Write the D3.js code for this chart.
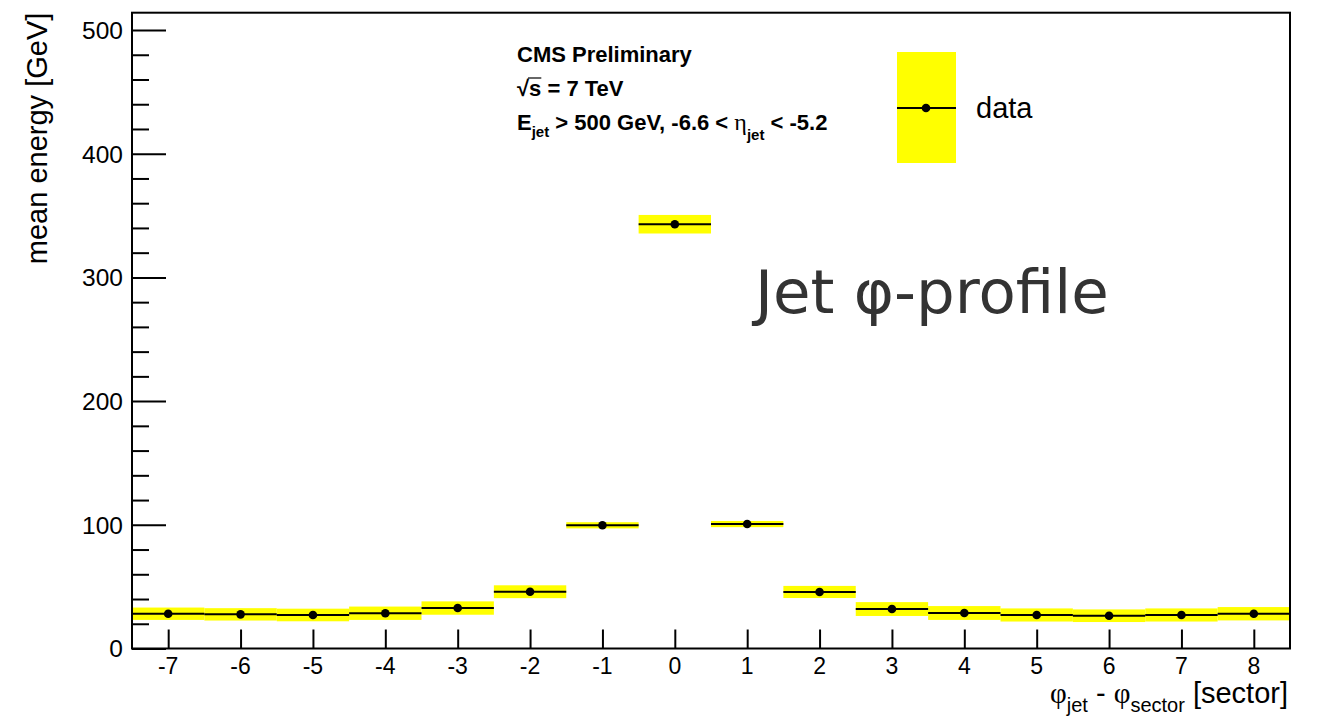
<!DOCTYPE html>
<html>
<head>
<meta charset="utf-8">
<script src="https://cdn.jsdelivr.net/npm/d3@7"></script>
<style>
  html, body { margin: 0; padding: 0; background: #fff; }
  svg { display: block; }
</style>
</head>
<body>
<svg id="chart" width="1320" height="718"></svg>
<script>
// Jet phi-profile: mean energy per azimuthal sector relative to the jet axis
const sectors = [-7, -6, -5, -4, -3, -2, -1, 0, 1, 2, 3, 4, 5, 6, 7, 8];
const meanEnergy = [28.1, 27.6, 27.1, 28.5, 32.7, 45.9, 99.6, 343.0, 100.6, 45.7, 31.9, 28.7, 27.1, 26.5, 27.1, 28.1];
const energyErr = [5.0, 5.0, 5.1, 5.4, 5.4, 5.2, 2.5, 7.5, 2.5, 4.9, 5.6, 5.6, 5.3, 5.1, 5.3, 5.4];
const yMajorTicks = [0, 100, 200, 300, 400, 500];
const yMinorTicks = d3.range(20, 501, 20).filter(v => v % 100 !== 0);
const xTickLabels = sectors.map(String);

const svg = d3.select("#chart");
const font = "'Liberation Sans', Arial, Helvetica, sans-serif";
const symFont = "'Liberation Serif', 'DejaVu Serif', serif";

const x = d3.scaleLinear().domain([-7.5, 8.5]).range([132, 1290]);
const y = d3.scaleLinear().domain([0, 514]).range([648.5, 12.7]);

const rows = sectors.map((s, i) => ({ s, v: meanEnergy[i], e: energyErr[i] }));

// Error bands (full bin width)
svg.append("g").selectAll("rect").data(rows).join("rect")
  .attr("x", d => x(d.s - 0.5))
  .attr("width", d => x(d.s + 0.5) - x(d.s - 0.5))
  .attr("y", d => y(d.v + d.e))
  .attr("height", d => y(d.v - d.e) - y(d.v + d.e))
  .attr("fill", "#ffff00");

// Bin-width horizontal bars
svg.append("g").selectAll("line").data(rows).join("line")
  .attr("x1", d => x(d.s - 0.5))
  .attr("x2", d => x(d.s + 0.5))
  .attr("y1", d => y(d.v))
  .attr("y2", d => y(d.v))
  .attr("stroke", "#000")
  .attr("stroke-width", 2);

// Markers
svg.append("g").selectAll("circle").data(rows).join("circle")
  .attr("cx", d => x(d.s))
  .attr("cy", d => y(d.v))
  .attr("r", 4.3)
  .attr("fill", "#000");

// Y axis: major + minor ticks, drawn inward
const yAxisMajor = d3.axisRight(y).tickValues(yMajorTicks).tickSize(34).tickFormat("");
const yAxisMinor = d3.axisRight(y).tickValues(yMinorTicks).tickSize(17).tickFormat("");
const gyMaj = svg.append("g").attr("transform", `translate(${x(-7.5)},0)`).call(yAxisMajor);
const gyMin = svg.append("g").attr("transform", `translate(${x(-7.5)},0)`).call(yAxisMinor);
[gyMaj, gyMin].forEach(g => {
  g.select(".domain").remove();
  g.selectAll(".tick line").attr("stroke", "#000").attr("stroke-width", 2);
});
svg.append("g").selectAll("text").data(yMajorTicks).join("text")
  .attr("x", 123)
  .attr("y", d => y(d))
  .attr("dy", "0.36em")
  .attr("text-anchor", "end")
  .attr("font-family", font)
  .attr("font-size", 24.5)
  .attr("fill", "#000")
  .text(d => d);

// X axis: ticks pointing up into the plot
const xAxis = d3.axisTop(x).tickValues(sectors).tickSize(19).tickFormat("");
const gx = svg.append("g").attr("transform", `translate(0,${y(0)})`).call(xAxis);
gx.select(".domain").remove();
gx.selectAll(".tick line").attr("stroke", "#000").attr("stroke-width", 2);
svg.append("g").selectAll("text").data(sectors).join("text")
  .attr("x", d => x(d))
  .attr("y", 674)
  .attr("text-anchor", "middle")
  .attr("font-family", font)
  .attr("font-size", 23)
  .attr("fill", "#000")
  .text((d, i) => xTickLabels[i]);

// Frame
svg.append("rect")
  .attr("x", x(-7.5)).attr("y", y(514))
  .attr("width", x(8.5) - x(-7.5))
  .attr("height", y(0) - y(514))
  .attr("fill", "none")
  .attr("stroke", "#000")
  .attr("stroke-width", 2);

// Y axis title
svg.append("text")
  .attr("transform", `translate(47,${y(514)}) rotate(-90)`)
  .attr("text-anchor", "end")
  .attr("font-family", font)
  .attr("font-size", 29)
  .attr("fill", "#000")
  .text("mean energy [GeV]");

// X axis title
const xt = svg.append("text")
  .attr("x", 1288).attr("y", 703)
  .attr("text-anchor", "end")
  .attr("font-family", font)
  .attr("font-size", 29)
  .attr("fill", "#000");
xt.append("tspan").attr("font-family", symFont).text("φ");
xt.append("tspan").attr("font-size", 20).attr("dy", 9).text("jet");
xt.append("tspan").attr("dy", -9).text(" - ");
xt.append("tspan").attr("font-family", symFont).text("φ");
xt.append("tspan").attr("font-size", 20).attr("dy", 9).text("sector");
xt.append("tspan").attr("dy", -9).text(" [sector]");

// Header block
svg.append("text")
  .attr("x", 517).attr("y", 62)
  .attr("font-family", font).attr("font-weight", "bold").attr("font-size", 22)
  .attr("fill", "#000")
  .text("CMS Preliminary");

const sq = svg.append("text")
  .attr("x", 517).attr("y", 96)
  .attr("font-family", font).attr("font-weight", "bold").attr("font-size", 22)
  .attr("fill", "#000")
  .text("√s = 7 TeV");
const sExt = sq.node().getExtentOfChar(1);
svg.append("line")
  .attr("x1", sExt.x - 1).attr("x2", sExt.x + sExt.width)
  .attr("y1", 96 - 18).attr("y2", 96 - 18)
  .attr("stroke", "#000").attr("stroke-width", 1.2);

const l3 = svg.append("text")
  .attr("x", 517).attr("y", 130)
  .attr("font-family", font).attr("font-weight", "bold").attr("font-size", 22)
  .attr("fill", "#000");
l3.append("tspan").text("E");
l3.append("tspan").attr("font-size", 15).attr("dy", 7).text("jet");
l3.append("tspan").attr("dy", -7).text(" > 500 GeV, -6.6 < ");
l3.append("tspan").attr("font-family", symFont).attr("font-weight", "normal").attr("font-size", 24).text("η");
l3.append("tspan").attr("font-size", 15).attr("dy", 10).text("jet");
l3.append("tspan").attr("dy", -10).text(" < -5.2");

// Legend
svg.append("rect")
  .attr("x", 897).attr("y", 52).attr("width", 59).attr("height", 111)
  .attr("fill", "#ffff00");
svg.append("line")
  .attr("x1", 897).attr("x2", 956).attr("y1", 108).attr("y2", 108)
  .attr("stroke", "#000").attr("stroke-width", 2);
svg.append("circle").attr("cx", 926).attr("cy", 108).attr("r", 4.3).attr("fill", "#000");
svg.append("text")
  .attr("x", 976).attr("y", 118)
  .attr("font-family", font).attr("font-size", 29)
  .attr("fill", "#000")
  .text("data");

// Annotation
svg.append("text")
  .attr("x", 755).attr("y", 313)
  .attr("font-family", "'DejaVu Sans', Verdana, sans-serif")
  .attr("font-size", 61)
  .attr("fill", "#333")
  .text("Jet φ-profile");
</script>
</body>
</html>
